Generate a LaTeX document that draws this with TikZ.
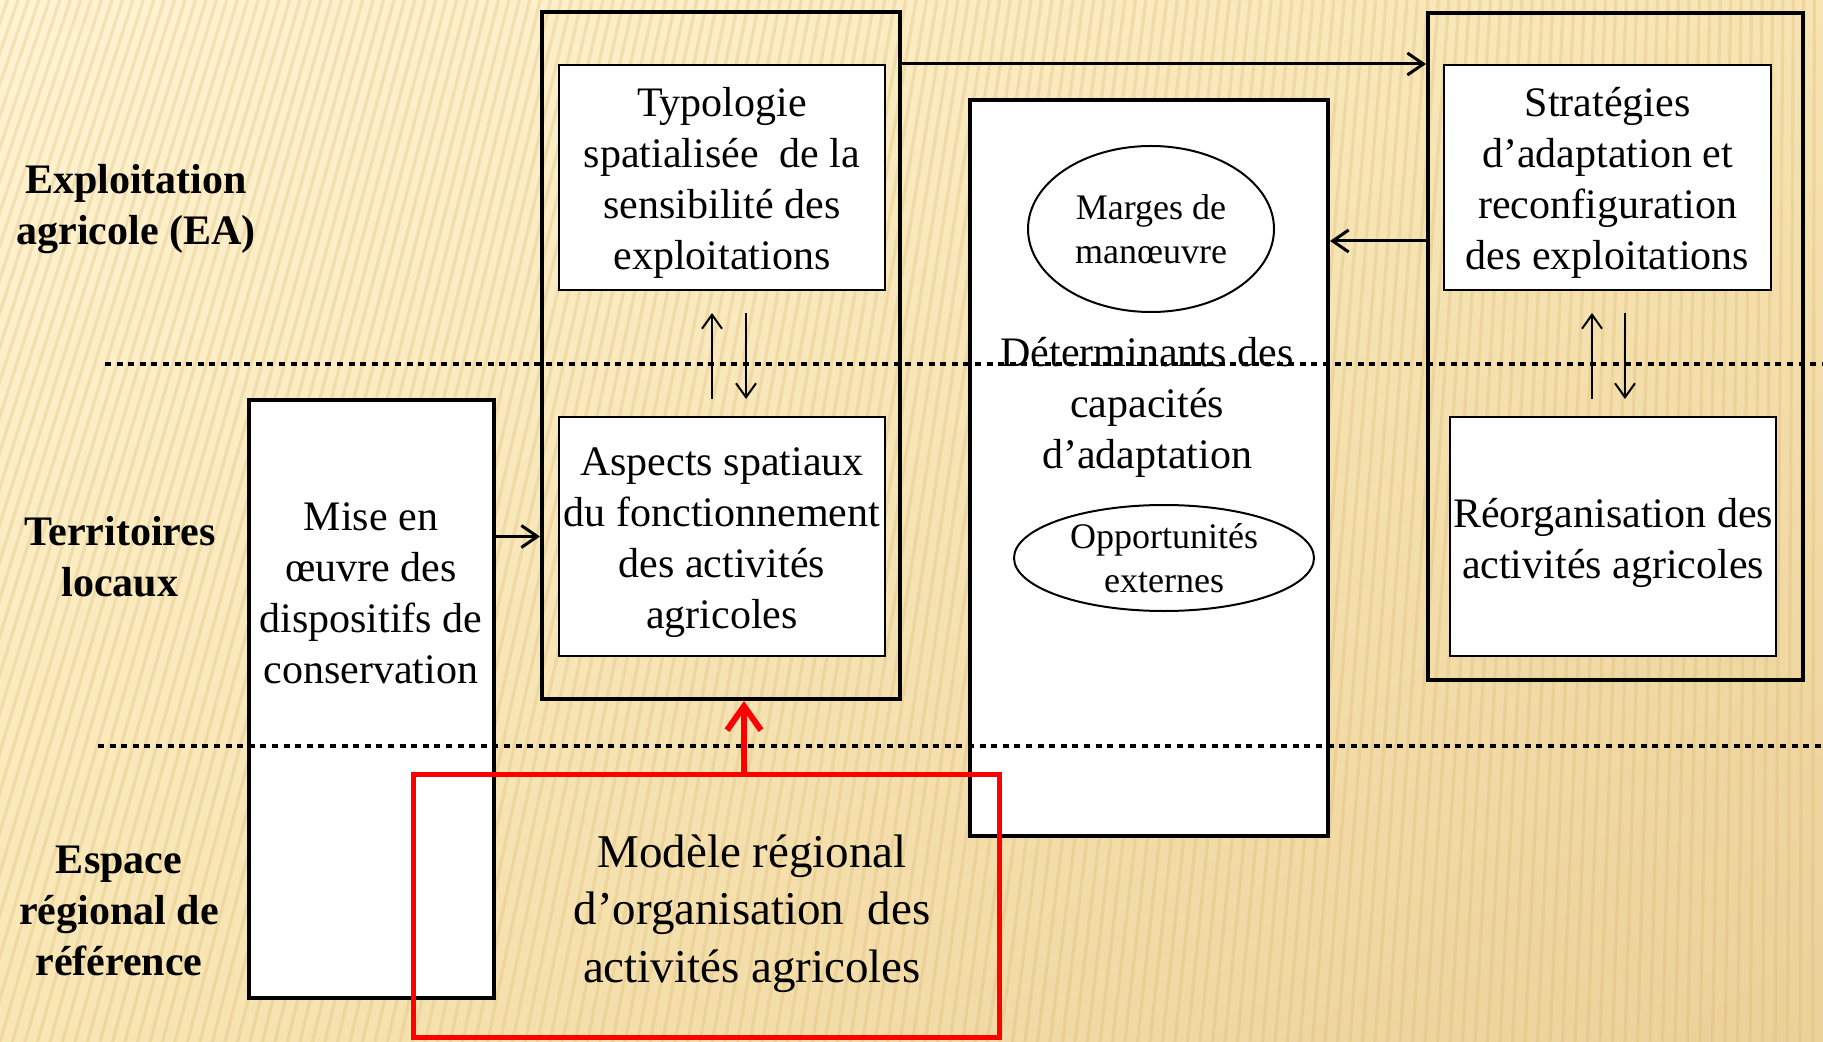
\documentclass[tikz,border=0pt]{standalone}
\usepackage{fontspec}
\setmainfont{Liberation Serif}
\usetikzlibrary{arrows.meta,calc,shapes.geometric,shadings}
\definecolor{bgUL}{HTML}{FFF4D3}
\definecolor{bgUR}{HTML}{F7E4B2}
\definecolor{bgLL}{HTML}{F8E6B4}
\definecolor{bgLR}{HTML}{EBD098}
\definecolor{bgS}{HTML}{D9B66E}
\newcommand{\myBody}{\fontsize{21}{25.5}\selectfont}
\newcommand{\myEll}{\fontsize{18}{22}\selectfont}
\newcommand{\myBig}{\fontsize{23.5}{28.75}\selectfont}
\begin{document}
\begin{tikzpicture}[x=0.5pt,y=-0.5pt,
  stripe/.style={draw=bgS,line width=1.6pt,opacity=0.28},
  thickbox/.style={draw=black,line width=2pt,inner sep=0pt},
  whitebox/.style={draw=black,fill=white,line width=2pt,inner sep=0pt},
  thinbox/.style={draw=black,fill=white,line width=1pt,inner sep=0pt},
  txt/.style={align=center,font=\myBody,inner sep=0pt},
  lbl/.style={align=center,font=\myBody\bfseries,inner sep=0pt},
  ell/.style={ellipse,draw=black,fill=white,line width=1pt,inner sep=0pt,align=center,font=\myEll},
  arr/.style={-{Straight Barb[length=7pt,width=10pt]},line width=1pt},
  harr/.style={-{Straight Barb[length=8pt,width=11pt]},line width=1.5pt},
  redarr/.style={-{Straight Barb[length=12pt,width=17pt]},line width=3pt,draw=red,line cap=round},
  sepline/.style={line width=2.2pt,dash pattern=on 3pt off 2.8pt}]
\useasboundingbox (0,0) rectangle (1823,1042);
% background
\shade[upper left=bgUL,upper right=bgUR,lower left=bgLL,lower right=bgLR] (0,0) rectangle (1823,1042);
\begin{scope}
\clip (0,0) rectangle (1823,1042);
\foreach \i in {0,...,175}{
  \pgfmathsetmacro{\xa}{-350+\i*12.5}
  \pgfmathsetmacro{\xb}{\xa+300*(1-\xa/1823)}
  \draw[stripe] (\xa,1042) -- (\xb,0);
}
\end{scope}
% outer group boxes
\node[thickbox,minimum width=179pt,minimum height=343.5pt] (grp1) at (721,355.5) {};
\node[thickbox,minimum width=187.5pt,minimum height=333.5pt] (grp2) at (1615.5,346.5) {};
% inner boxes
\node[thinbox,minimum width=163pt,minimum height=112.5pt] (typo) at (722,177.5) {};
\node[txt] (typotext) at (722,182.5) {Typologie\\spatialisée\ \ de la\\sensibilité des\\exploitations};
\node[thinbox,minimum width=163pt,minimum height=119.5pt] (asp) at (722,536.5) {};
\node[txt] (asptext) at (722,542.5) {Aspects spatiaux\\du fonctionnement\\des activités\\agricoles};
\node[thinbox,minimum width=163.5pt,minimum height=112.5pt] (strat) at (1607.5,177.5) {};
\node[txt] (strattext) at (1607.5,182.5) {Stratégies\\d’adaptation et\\reconfiguration\\des exploitations};
\node[thinbox,minimum width=163pt,minimum height=119.5pt] (reorg) at (1613,536.5) {};
\node[txt] (reorgtext) at (1613,542.5) {Réorganisation des\\activités agricoles};
% Mise en oeuvre box
\node[whitebox,minimum width=122.5pt,minimum height=299pt] (mise) at (371.5,699) {};
\node[txt] (misetext) at (371,593) {Mise en\\œuvre des\\dispositifs de\\conservation};
% Determinants box
\node[whitebox,minimum width=179pt,minimum height=368pt] (det) at (1149,468) {};
\node[ell,minimum width=123pt,minimum height=83pt] (marges) at (1151,229) {Marges de\\manœuvre};
\node[txt] (dettext) at (1147,407) {Déterminants des\\capacités\\d’adaptation};
\node[ell,minimum width=150pt,minimum height=53pt] (opp) at (1164,558) {Opportunités\\externes};
% left labels
\node[lbl] (lab1) at (136,209) {Exploitation\\agricole (EA)};
\node[lbl] (lab2) at (120,556.5) {Territoires\\locaux};
\node[lbl] (lab3) at (119,910.5) {Espace\\régional de\\référence};
% red regional model box
\node[draw=red,line width=2.5pt,inner sep=0pt,minimum width=293pt,minimum height=131.5pt] (red) at (706,905.5) {};
\node[txt,font=\myBig] (redtext) at (752,913.5) {Modèle régional\\d’organisation\ \ des\\activités agricoles};
% separator lines
\coordinate (s1a) at (105,364);
\coordinate (s1b) at (1823,364);
\coordinate (s2a) at (98,746);
\coordinate (s2b) at (1823,746);
\draw[sepline] (s1a) -- (s1b);
\draw[sepline] (s2a) -- (s2b);
% connectors
\draw[harr] (typo.north -| grp1.east) -- (typo.north -| grp2.west);
\coordinate (a2) at (0,241);
\draw[harr] (a2 -| grp2.west) -- (a2 -| det.east);
\draw[harr] (asp.center -| mise.east) -- (asp.center -| grp1.west);
\draw[arr] ([xshift=-5pt,yshift=8.5pt]asp.north) -- ([xshift=-5pt,yshift=-11pt]typo.south);
\draw[arr] ([xshift=12pt,yshift=-11pt]typo.south) -- ([xshift=12pt,yshift=8.5pt]asp.north);
\draw[arr] ([xshift=-10.5pt,yshift=8.5pt]reorg.north) -- ([xshift=-10.5pt,yshift=-11pt]reorg.north |- strat.south);
\draw[arr] ([xshift=6pt,yshift=-11pt]reorg.north |- strat.south) -- ([xshift=6pt,yshift=8.5pt]reorg.north);
\coordinate (ra) at (744,0);
\draw[redarr] (ra |- red.north) -- (ra |- grp1.south);
\end{tikzpicture}
\end{document}
